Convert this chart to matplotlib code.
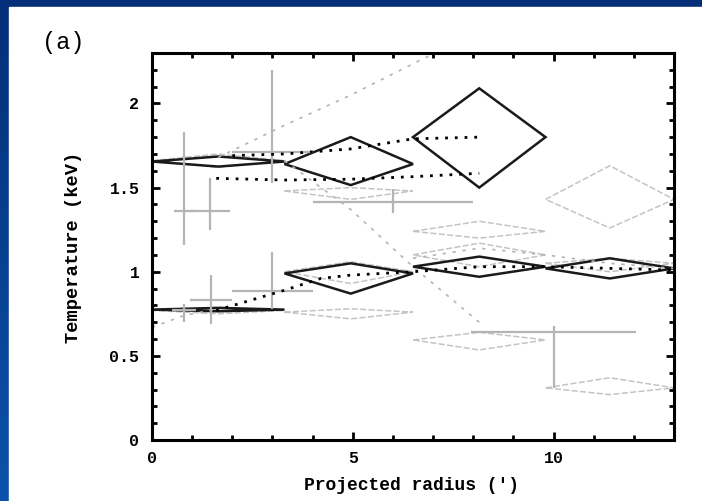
import numpy as np
import matplotlib.pyplot as plt
from matplotlib.patches import Polygon, Rectangle
from matplotlib.ticker import MultipleLocator

# radial bins (arcmin)
bin_lo = [0.0, 3.3, 6.5, 9.8]
bin_mid = [1.65, 4.95, 8.15, 11.4]
bin_hi = [3.3, 6.5, 9.8, 13.0]

# black diamonds - hot phase (first 3 bins) and cool phase (4 bins)
hot_t = [1.655, 1.64, 1.80]
hot_up = [1.685, 1.80, 2.09]
hot_dn = [1.625, 1.515, 1.50]
cool_t = [0.775, 0.99, 1.03, 1.02]
cool_up = [0.785, 1.05, 1.09, 1.08]
cool_dn = [0.765, 0.87, 0.97, 0.96]

# grey diamonds - comparison model
g_hot_t = [1.66, 1.48, 1.24, 1.43]
g_hot_up = [1.70, 1.50, 1.30, 1.63]
g_hot_dn = [1.62, 1.43, 1.20, 1.26]
g_mid_t = [1.00, 1.10, 1.05]
g_mid_up = [1.06, 1.17, 1.08]
g_mid_dn = [0.93, 1.03, 1.00]
g_cool_t = [0.77, 0.76, 0.595, 0.31]
g_cool_up = [0.79, 0.78, 0.64, 0.37]
g_cool_dn = [0.75, 0.72, 0.535, 0.27]

# dotted profiles
dot_a_x = [1.6, 3.3, 4.95, 6.5, 8.15]
dot_a_y = [1.555, 1.545, 1.55, 1.565, 1.585]
dot_b_x = [2.0, 3.3, 4.95, 6.5, 8.15]
dot_b_y = [1.69, 1.70, 1.73, 1.79, 1.80]
dot_c_x = [1.6, 3.3, 4.2, 4.95, 6.5, 8.15, 9.8, 11.4, 13.0]
dot_c_y = [0.77, 0.89, 0.96, 0.98, 1.00, 1.03, 1.03, 1.02, 1.01]
gdot_rise_x = [1.65, 3.3, 4.95, 6.7, 8.15]
gdot_rise_y = [1.68, 1.87, 2.05, 2.26, 2.42]
gdot_fall_x = [3.3, 4.95, 6.5, 8.15]
gdot_fall_y = [1.66, 1.37, 1.03, 0.70]
gdot_mid_x = [6.5, 8.15, 9.8, 11.4, 13.0]
gdot_mid_y = [1.08, 1.14, 1.10, 1.05, 1.02]
gdot_low_x = [0.0, 0.8, 1.65]
gdot_low_y = [0.67, 0.74, 0.78]

# grey crosses - earlier measurements
cr_x = [0.8, 1.45, 3.0, 6.0, 1.47, 3.0, 0.8, 10.0]
cr_y = [1.36, 1.36, 1.71, 1.415, 0.83, 0.885, 0.775, 0.64]
cr_xerr = [0.25, 0.5, 1.0, 2.0, 0.52, 1.0, 0.3, 2.05]
cr_ylo = [0.20, 0.11, 0.18, 0.065, 0.14, 0.105, 0.075, 0.33]
cr_yhi = [0.47, 0.20, 0.49, 0.075, 0.15, 0.235, 0.035, 0.04]

W, H = 702, 501
fig = plt.figure(figsize=(W / 100, H / 100), dpi=100)

# slide background: blue frame with white panel
bg = fig.add_axes([0, 0, 1, 1])
grad = np.linspace(0, 1, 256).reshape(-1, 1)
top_c = np.array([0x04, 0x2e, 0x78]) / 255
bot_c = np.array([0x0c, 0x52, 0xaa]) / 255
img = top_c + (bot_c - top_c) * grad[:, :, None]
bg.imshow(img, aspect="auto", extent=[0, 1, 0, 1], origin="upper")
bg.add_patch(Rectangle((9 / W, 0), 1, 1 - 7 / H, color="white"))
bg.set_xlim(0, 1)
bg.set_ylim(0, 1)
bg.axis("off")

ax = fig.add_axes([152 / W, 1 - 440 / H, (674 - 152) / W, (440 - 53) / H])
ax.set_xlim(0, 13)
ax.set_ylim(0, 2.3)


def diamonds(ax, n0, t, up, dn, color, lw, ls="-"):
    for i in range(len(t)):
        j = n0 + i
        pts = [(bin_lo[j], t[i]), (bin_mid[j], up[i]), (bin_hi[j], t[i]), (bin_mid[j], dn[i])]
        ax.add_patch(Polygon(pts, closed=True, fill=False, edgecolor=color,
                             linewidth=lw, linestyle=ls, clip_on=True))


grey = "#b4b4b4"
lgrey = "#c4c4c4"

# grey stuff first (behind)
ax.errorbar(cr_x, cr_y, xerr=cr_xerr, yerr=[cr_ylo, cr_yhi], fmt="none",
            ecolor=grey, elinewidth=1.6, capsize=0)
diamonds(ax, 0, g_hot_t, g_hot_up, g_hot_dn, lgrey, 1.1, (0, (4, 1.5)))
diamonds(ax, 1, g_mid_t, g_mid_up, g_mid_dn, lgrey, 1.1, (0, (4, 1.5)))
diamonds(ax, 0, g_cool_t, g_cool_up, g_cool_dn, lgrey, 1.1, (0, (4, 1.5)))
for xs, ys in [(gdot_rise_x, gdot_rise_y), (gdot_fall_x, gdot_fall_y),
               (gdot_mid_x, gdot_mid_y), (gdot_low_x, gdot_low_y)]:
    ax.plot(xs, ys, color=grey, lw=1.2, ls=(0, (2, 4)))

# black diamonds and dotted profiles
diamonds(ax, 0, hot_t, hot_up, hot_dn, "#1a1a1a", 1.8)
diamonds(ax, 0, cool_t, cool_up, cool_dn, "#1a1a1a", 1.8)
for xs, ys in [(dot_a_x, dot_a_y), (dot_b_x, dot_b_y), (dot_c_x, dot_c_y)]:
    ax.plot(xs, ys, color="black", lw=2.0, ls=(0, (1, 2.5)))

# axes styling
for s in ax.spines.values():
    s.set_linewidth(2.2)
ax.xaxis.set_major_locator(MultipleLocator(5))
ax.xaxis.set_minor_locator(MultipleLocator(1))
ax.yaxis.set_major_locator(MultipleLocator(0.5))
ax.yaxis.set_minor_locator(MultipleLocator(0.1))
ax.tick_params(which="both", direction="in", top=True, right=True, width=2.0)
ax.tick_params(which="major", length=6)
ax.tick_params(which="minor", length=3.5)
ax.tick_params(axis="x", which="major", pad=8)
ax.tick_params(axis="y", which="major", pad=9)
ax.set_yticks([0, 0.5, 1, 1.5, 2])
ax.set_yticklabels(["0", "0.5", "1", "1.5", "2"])
for lab in ax.get_xticklabels() + ax.get_yticklabels():
    lab.set_family("Liberation Mono")
    lab.set_fontweight("bold")
    lab.set_fontsize(12)

fig.text(412 / W, 1 - 485 / H, "Projected radius (')", ha="center", va="center",
         family="Liberation Mono", fontweight="bold", fontsize=13)
fig.text(74 / W, 1 - 247 / H, "Temperature (keV)", ha="center", va="center",
         rotation=90, family="Liberation Mono", fontweight="bold", fontsize=13.5)
fig.text(63 / W, 1 - 42 / H, "(a)", ha="center", va="center",
         family="Liberation Mono", fontsize=17)

fig.savefig("out.png", dpi=100)
